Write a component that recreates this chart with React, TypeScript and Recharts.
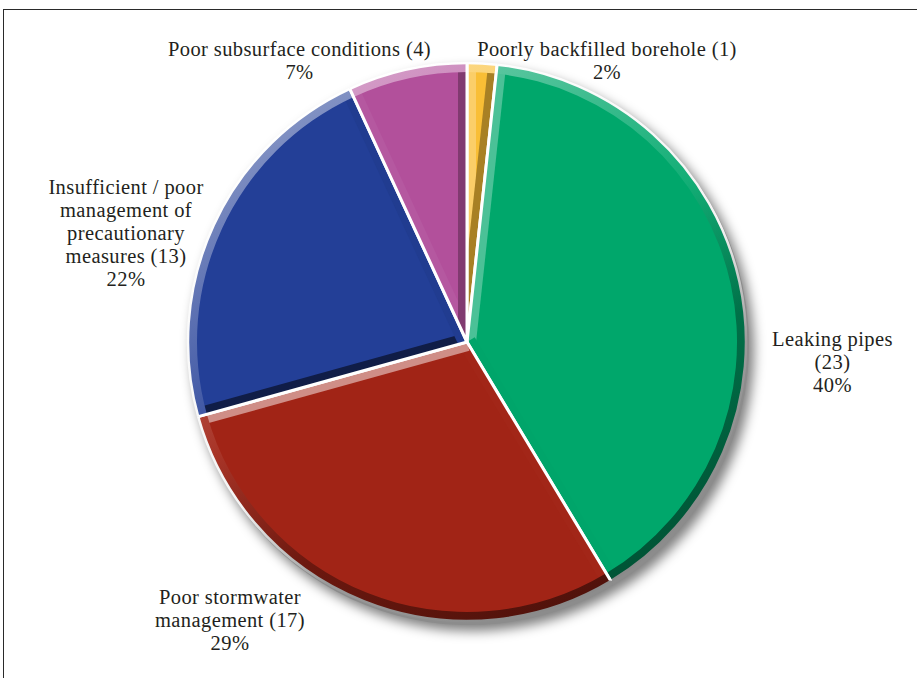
import React from 'react';
import { PieChart, Pie, Cell } from 'recharts';

// ---- data ----
const categories = [
  'Poorly backfilled borehole',
  'Leaking pipes',
  'Poor stormwater management',
  'Insufficient / poor management of precautionary measures',
  'Poor subsurface conditions',
];
const counts = [1, 23, 17, 13, 4];
// how each category name is wrapped in its label (count is appended to the last line)
const categoryLines = [
  ['Poorly backfilled borehole'],
  ['Leaking pipes', ''],
  ['Poor stormwater', 'management'],
  ['Insufficient / poor', 'management of', 'precautionary', 'measures'],
  ['Poor subsurface conditions'],
];
const COLORS = ['#F9BE35', '#00A76B', '#A12416', '#233F97', '#B2509B'];

// ---- label layout: offsets from pie centre (text centre x, first baseline y) ----
const labelOffsets = [
  [140, -286],
  [365.5, 4],
  [-237, 261.5],
  [-341, -148],
  [-167.5, -286],
];
const LINE_H = 23;
const FONT = 'Liberation Serif';

const total = counts.reduce((a, b) => a + b, 0);
const data = categories.map((name, i) => ({ name, value: counts[i] }));

const CX = 467;
const CY = 342;
const R = 279;
const BEVEL = 9;
const LIGHT = { x: -0.5, y: -0.866 };
const RAD = Math.PI / 180;

function hexToRgb(h: string) {
  const n = parseInt(h.slice(1), 16);
  return [(n >> 16) & 255, (n >> 8) & 255, n & 255];
}
function mix(h: string, t: string, f: number) {
  const a = hexToRgb(h);
  const b = hexToRgb(t);
  const c = a.map((v, i) => Math.round(v + (b[i] - v) * f));
  return `rgb(${c[0]},${c[1]},${c[2]})`;
}
function shade(fill: string, k: number) {
  return k >= 0 ? mix(fill, '#ffffff', 0.5 * k) : mix(fill, '#000000', -0.55 * k);
}

function sectorPath(cx: number, cy: number, r: number, a1: number, a2: number) {
  const pt = (rr: number, a: number) => [cx + rr * Math.cos(a * RAD), cy - rr * Math.sin(a * RAD)];
  const large = Math.abs(a1 - a2) > 180 ? 1 : 0;
  const cw = a1 > a2 ? 1 : 0;
  const [x1, y1] = pt(r, a1);
  const [x2, y2] = pt(r, a2);
  return `M${cx},${cy} L${x1},${y1} A${r},${r} 0 ${large} ${cw} ${x2},${y2} Z`;
}

function BevelSector(props: any) {
  const { cx, cy, outerRadius: r, startAngle: a1, endAngle: a2, fill } = props;
  const idx = COLORS.indexOf(fill);
  const pt = (rr: number, a: number) => [cx + rr * Math.cos(a * RAD), cy - rr * Math.sin(a * RAD)];
  const large = Math.abs(a1 - a2) > 180 ? 1 : 0;
  const cw = a1 > a2 ? 1 : 0;
  const [x1, y1] = pt(r, a1);
  const [x2, y2] = pt(r, a2);
  const ri = r - BEVEL;
  const [x3, y3] = pt(ri, a2);
  const [x4, y4] = pt(ri, a1);
  const d = sectorPath(cx, cy, r, a1, a2);
  const rimD = `M${x1},${y1} A${r},${r} 0 ${large} ${cw} ${x2},${y2} L${x3},${y3} A${ri},${ri} 0 ${large} ${1 - cw} ${x4},${y4} Z`;
  const arcD = `M${x1},${y1} A${r},${r} 0 ${large} ${cw} ${x2},${y2}`;
  const n1 = { x: -Math.sin(a1 * RAD), y: -Math.cos(a1 * RAD) };
  const n2 = { x: Math.sin(a2 * RAD), y: Math.cos(a2 * RAD) };
  const k1 = n1.x * LIGHT.x + n1.y * LIGHT.y;
  const k2 = n2.x * LIGHT.x + n2.y * LIGHT.y;
  const id = `s${idx}`;
  return (
    <g>
      <defs>
        <clipPath id={`clip-${id}`}>
          <path d={d} />
        </clipPath>
        <linearGradient id={`rim-${id}`} gradientUnits="userSpaceOnUse"
          x1={cx + LIGHT.x * r} y1={cy + LIGHT.y * r} x2={cx - LIGHT.x * r} y2={cy - LIGHT.y * r}>
          <stop offset="0" stopColor={shade(fill, 0.85)} />
          <stop offset="0.45" stopColor={shade(fill, 0.15)} />
          <stop offset="0.7" stopColor={shade(fill, -0.6)} />
          <stop offset="1" stopColor={shade(fill, -0.9)} />
        </linearGradient>
        <linearGradient id={`edge-${id}`} gradientUnits="userSpaceOnUse"
          x1={cx + LIGHT.x * r} y1={cy + LIGHT.y * r} x2={cx - LIGHT.x * r} y2={cy - LIGHT.y * r}>
          <stop offset="0" stopColor="#ffffff" />
          <stop offset="0.55" stopColor="#f4f4f4" />
          <stop offset="0.75" stopColor="#9a9a9a" />
          <stop offset="1" stopColor="#8a8a8a" />
        </linearGradient>
      </defs>
      <path d={d} fill={fill} />
      <g clipPath={`url(#clip-${id})`}>
        <line x1={cx} y1={cy} x2={x1} y2={y1} stroke={shade(fill, k1)} strokeWidth={BEVEL * 2} />
        <line x1={cx} y1={cy} x2={x2} y2={y2} stroke={shade(fill, k2)} strokeWidth={BEVEL * 2} />
        <path d={rimD} fill={`url(#rim-${id})`} />
      </g>
      <path d={`M${x1},${y1} L${cx},${cy} L${x2},${y2}`} fill="none" stroke="#ffffff" strokeWidth={3} />
      <path d={arcD} fill="none" stroke={`url(#edge-${id})`} strokeWidth={2.5} />
    </g>
  );
}

function ShadowSector(props: any) {
  const { cx, cy, outerRadius: r, startAngle, endAngle, fill } = props;
  return <path d={sectorPath(cx, cy, r, startAngle, endAngle)} fill={fill} />;
}

function renderLabel(props: any) {
  const { cx, cy, index } = props;
  const [dx, dy] = labelOffsets[index];
  const nameLines = categoryLines[index].slice();
  const last = nameLines.length - 1;
  nameLines[last] = `${nameLines[last]} (${counts[index]})`.trim();
  const pct = `${Math.round((counts[index] / total) * 100)}%`;
  const lines = [...nameLines, pct];
  const x = cx + dx;
  return (
    <text key={`lbl-${index}`} x={x} y={cy + dy} textAnchor="middle"
      fontFamily={FONT} fontSize={20.5} letterSpacing={0.4} fill="#231f20">
      {lines.map((l, i) => (
        <tspan key={i} x={x} dy={i === 0 ? 0 : LINE_H}>{l}</tspan>
      ))}
    </text>
  );
}

export default function App() {
  return (
    <div style={{ position: 'fixed', left: 0, top: 0, width: 917, height: 678, overflow: 'hidden', background: '#ffffff' }}>
      <style>{`.pie-shadow { filter: blur(6px); }`}</style>
      <div style={{ position: 'absolute', left: 3, top: 9, width: 940, height: 700,
        borderTop: '1.5px solid #2a2a2a', borderLeft: '1.5px solid #2a2a2a' }} />
      <div style={{ position: 'absolute', left: 0, top: 0 }}>
        <PieChart width={917} height={678} margin={{ top: 0, right: 0, bottom: 0, left: 0 }}>
          <Pie className="pie-shadow" data={data} dataKey="value" cx={CX + 6} cy={CY + 8} outerRadius={R + 2}
            startAngle={90} endAngle={-270} fill="rgba(0,0,0,0.5)" stroke="none" shape={ShadowSector}
            isAnimationActive={false} />
          <Pie data={data} dataKey="value" cx={CX + 2} cy={CY + 3} outerRadius={R + 1}
            startAngle={90} endAngle={-270} fill="#8c8c8c" stroke="none" shape={ShadowSector}
            isAnimationActive={false} />
          <Pie data={data} dataKey="value" cx={CX} cy={CY} outerRadius={R} startAngle={90} endAngle={-270}
            stroke="none" shape={BevelSector} label={renderLabel} labelLine={false} isAnimationActive={false}>
            {data.map((d, i) => (
              <Cell key={d.name} fill={COLORS[i]} />
            ))}
          </Pie>
        </PieChart>
      </div>
    </div>
  );
}
